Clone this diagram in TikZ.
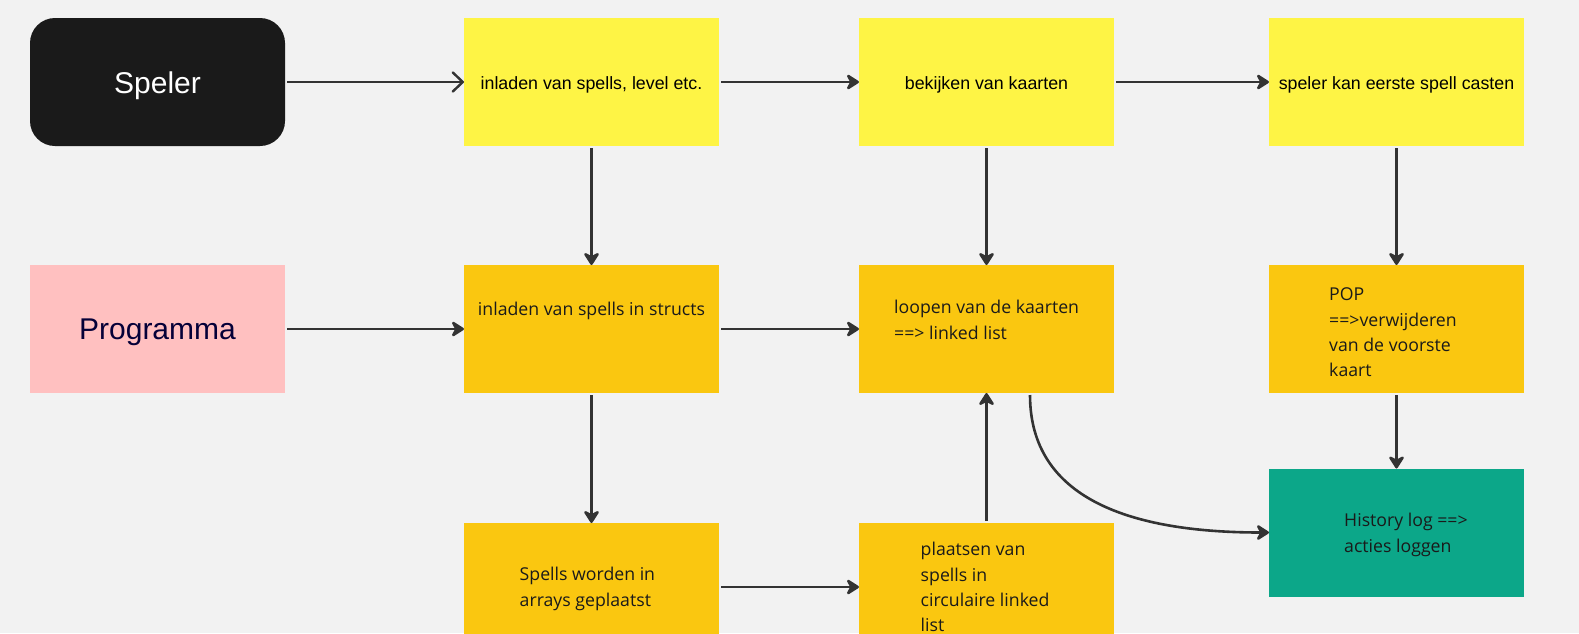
\documentclass[tikz,border=0pt]{standalone}
\usepackage{fontspec}
\setmainfont{Liberation Sans}
\newfontfamily\opensans{Open Sans}
\usetikzlibrary{arrows.meta,calc}
\definecolor{bgcol}{HTML}{F2F2F2}
\definecolor{ycol}{HTML}{FEF445}
\definecolor{ocol}{HTML}{FAC710}
\definecolor{gcol}{HTML}{0CA789}
\definecolor{pcol}{HTML}{FFC0C0}
\definecolor{kcol}{HTML}{1A1A1A}
\definecolor{navy}{HTML}{050038}
\definecolor{lcol}{HTML}{333333}
\definecolor{tcol}{HTML}{1A1A1A}
\begin{document}
\begin{tikzpicture}[x=1pt,y=-1pt,
  box/.style={minimum width=255pt,minimum height=128pt,inner sep=0pt,outer sep=0pt},
  ybox/.style={box,fill=ycol},
  obox/.style={box,fill=ocol},
  ytxt/.style={font=\fontsize{17.8}{21}\selectfont,inner sep=0pt,anchor=base,text=black},
  otxt/.style={font=\opensans\fontsize{17.7}{25.3}\selectfont,inner sep=0pt,align=left,anchor=north west,text=tcol},
  bigtxt/.style={font=\fontsize{30}{36}\selectfont,inner sep=0pt,anchor=base},
  arr/.style={draw=lcol,line width=2.6pt,shorten <=2pt,-{Stealth[length=15pt,width=19pt,inset=5pt,round]}},
  arro/.style={draw=lcol,line width=2.4pt,shorten <=2pt,-{Straight Barb[length=10pt,width=19pt,round]}}]
\fill[bgcol] (0,0) rectangle (1579,633);
\useasboundingbox (0,0) rectangle (1579,633);
\clip (0,0) rectangle (1579,633);

% row 1
\node[box,fill=kcol,rounded corners=25pt] (speler) at (157.5,82) {};
\node[ybox] (inl1) at (591.5,82) {};
\node[ybox] (bek) at (986.5,82) {};
\node[ybox] (cast) at (1396.5,82) {};
% row 2
\node[box,fill=pcol] (prog) at (157.5,329) {};
\node[obox] (struct) at (591.5,329) {};
\node[obox] (loop) at (986.5,329) {};
\node[obox] (pop) at (1396.5,329) {};
% row 3
\node[box,fill=gcol] (hist) at (1396.5,532.5) {};
\node[obox] (arr) at (591.5,587) {};
\node[obox] (plaats) at (986.5,587) {};

% texts
\node[bigtxt,text=white] (spelerT) at ($(speler.center)+(0,11.3)$) {Speler};
\node[bigtxt,text=navy] (progT) at ($(prog.center)+(0,10.3)$) {Programma};
\node[ytxt] (inl1T) at ($(inl1.center)+(0,7.3)$) {inladen van spells, level etc.};
\node[ytxt] (bekT) at ($(bek.center)+(0,7.3)$) {bekijken van kaarten};
\node[ytxt] (castT) at ($(cast.center)+(0,7.3)$) {speler kan eerste spell casten};
\node[otxt,anchor=base] (structT) at ($(struct.center)+(0,-14)$) {inladen van spells in structs};
\node[otxt] (loopT) at ($(loop.north west)+(35,31)$) {\strut loopen van de kaarten\\\strut ==> linked list};
\node[otxt] (popT) at ($(pop.north west)+(60,18)$) {\strut POP\\\strut ==>verwijderen\\\strut van de voorste\\\strut kaart};
\node[otxt] (histT) at ($(hist.north west)+(75,40.5)$) {\strut History log ==>\\\strut acties loggen};
\node[otxt] (arrT) at ($(arr.north west)+(55.5,40)$) {\strut Spells worden in\\\strut arrays geplaatst};
\node[otxt] (plaatsT) at ($(plaats.north west)+(61.5,15)$) {\strut plaatsen van\\\strut spells in\\\strut circulaire linked\\\strut list};

% connectors
\draw[arro] (speler) -- (inl1);
\draw[arr] (inl1) -- (bek);
\draw[arr] (bek) -- (cast);
\draw[arr] (inl1) -- (struct);
\draw[arr] (bek) -- (loop);
\draw[arr] (cast) -- (pop);
\draw[arr] (prog) -- (struct);
\draw[arr] (struct) -- (loop);
\draw[arr] (struct) -- (arr);
\draw[arr] (arr) -- (plaats);
\draw[arr] (plaats) -- (loop);
\draw[arr] (pop) -- (hist);
\draw[arr] ($(loop.south)+(43.5,0)$) .. controls +(0,105) and +(-140,0) .. (hist.west);
\end{tikzpicture}
\end{document}
